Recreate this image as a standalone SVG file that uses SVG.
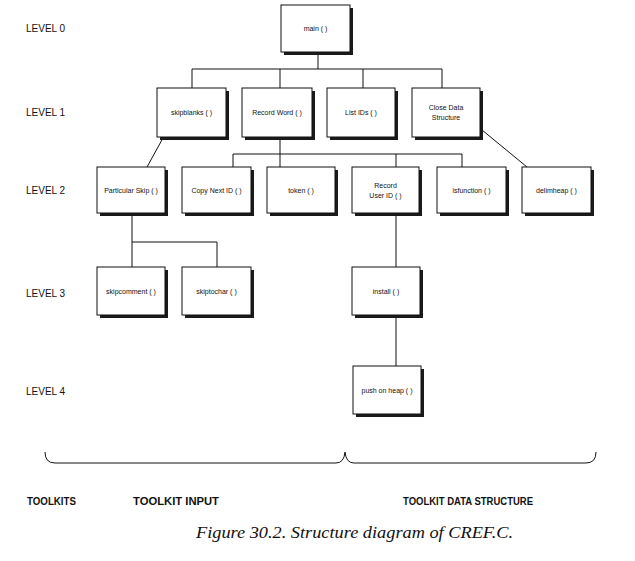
<svg xmlns="http://www.w3.org/2000/svg" width="635" height="561" viewBox="0 0 635 561">
<style>
.sh{fill:#1a1a1a}
.bx{fill:#fff;stroke:#111;stroke-width:1}
.t{font-family:"Liberation Sans",Arial,sans-serif;font-size:7px;fill:#111;text-anchor:middle}
.lv{font-family:"Liberation Sans",Arial,sans-serif;font-size:10px;fill:#111}
.tk{font-family:"Liberation Sans",Arial,sans-serif;font-size:10.5px;font-weight:bold;fill:#111}
.cap{font-family:"Liberation Serif","Times New Roman",serif;font-size:16px;font-style:italic;fill:#111}
.c{fill:none;stroke:#111;stroke-width:1}
</style>
<rect width="635" height="561" fill="#fff"/>
<g id="labels">
<text class="lv" x="26" y="32">LEVEL 0</text>
<text class="lv" x="26" y="116">LEVEL 1</text>
<text class="lv" x="26" y="194">LEVEL 2</text>
<text class="lv" x="26" y="297">LEVEL 3</text>
<text class="lv" x="26" y="395">LEVEL 4</text>
<text class="tk" x="27" y="505" textLength="49" lengthAdjust="spacingAndGlyphs">TOOLKITS</text>
<text class="tk" x="133" y="505" textLength="86" lengthAdjust="spacingAndGlyphs">TOOLKIT INPUT</text>
<text class="tk" x="403" y="505" textLength="130" lengthAdjust="spacingAndGlyphs">TOOLKIT DATA STRUCTURE</text>
<text class="cap" x="196" y="538" textLength="317" lengthAdjust="spacingAndGlyphs">Figure 30.2. Structure diagram of CREF.C.</text>
</g>
<g id="connectors">
<path class="c" d="M318 52V69M192 69H442M192 69V88M280 69V88M363 69V88M442 69V88"/>
<path class="c" d="M163 138L147 167"/>
<path class="c" d="M280 137V167M233 154H462M233 154V167M396 154V167M462 154V167"/>
<path class="c" d="M482 130L527 167"/>
<path class="c" d="M132 213V267M132 242H217V267"/>
<path class="c" d="M396 213V267M396 315V366"/>
<path class="c" d="M45 452Q45 463 55 463H336Q344 463 345 452Q346 463 354 463H586Q596 463 596 452"/>
</g>
<g id="main"><rect class="sh" x="284" y="8" width="69" height="47"/><rect class="bx" x="281" y="5" width="69" height="47"/><text class="t" x="315.5" y="31">main ( )</text></g>
<g id="skipblanks"><rect class="sh" x="160" y="91" width="69" height="49"/><rect class="bx" x="157" y="88" width="69" height="49"/><text class="t" x="191.5" y="115">skipblanks ( )</text></g>
<g id="recordword"><rect class="sh" x="245" y="91" width="70" height="49"/><rect class="bx" x="242" y="88" width="70" height="49"/><text class="t" x="277" y="115">Record Word ( )</text></g>
<g id="listids"><rect class="sh" x="330" y="91" width="68" height="49"/><rect class="bx" x="327" y="88" width="68" height="49"/><text class="t" x="361" y="115">List IDs ( )</text></g>
<g id="closedata"><rect class="sh" x="415" y="91" width="68" height="49"/><rect class="bx" x="412" y="88" width="68" height="49"/><text class="t" x="446" y="110">Close Data</text><text class="t" x="446" y="120">Structure</text></g>
<g id="particularskip"><rect class="sh" x="100" y="170" width="68" height="46"/><rect class="bx" x="97" y="167" width="68" height="46"/><text class="t" x="131" y="193">Particular Skip ( )</text></g>
<g id="copynextid"><rect class="sh" x="185" y="170" width="69" height="46"/><rect class="bx" x="182" y="167" width="69" height="46"/><text class="t" x="216.5" y="193">Copy Next ID ( )</text></g>
<g id="token"><rect class="sh" x="270" y="170" width="68" height="46"/><rect class="bx" x="267" y="167" width="68" height="46"/><text class="t" x="301" y="193">token ( )</text></g>
<g id="recorduserid"><rect class="sh" x="355" y="170" width="67" height="46"/><rect class="bx" x="352" y="167" width="67" height="46"/><text class="t" x="385.5" y="188">Record</text><text class="t" x="385.5" y="198">User ID ( )</text></g>
<g id="isfunction"><rect class="sh" x="440" y="170" width="69" height="46"/><rect class="bx" x="437" y="167" width="69" height="46"/><text class="t" x="471.5" y="193">isfunction ( )</text></g>
<g id="delimheap"><rect class="sh" x="525" y="170" width="69" height="46"/><rect class="bx" x="522" y="167" width="69" height="46"/><text class="t" x="556.5" y="193">delimheap ( )</text></g>
<g id="skipcomment"><rect class="sh" x="100" y="270" width="68" height="48"/><rect class="bx" x="97" y="267" width="68" height="48"/><text class="t" x="131" y="294">skipcomment ( )</text></g>
<g id="skiptochar"><rect class="sh" x="185" y="270" width="69" height="48"/><rect class="bx" x="182" y="267" width="69" height="48"/><text class="t" x="216.5" y="294">skiptochar ( )</text></g>
<g id="install"><rect class="sh" x="355" y="270" width="68" height="48"/><rect class="bx" x="352" y="267" width="68" height="48"/><text class="t" x="386" y="294">install ( )</text></g>
<g id="pushonheap"><rect class="sh" x="356" y="369" width="68" height="48"/><rect class="bx" x="353" y="366" width="68" height="48"/><text class="t" x="387" y="393">push on heap ( )</text></g>
</svg>
